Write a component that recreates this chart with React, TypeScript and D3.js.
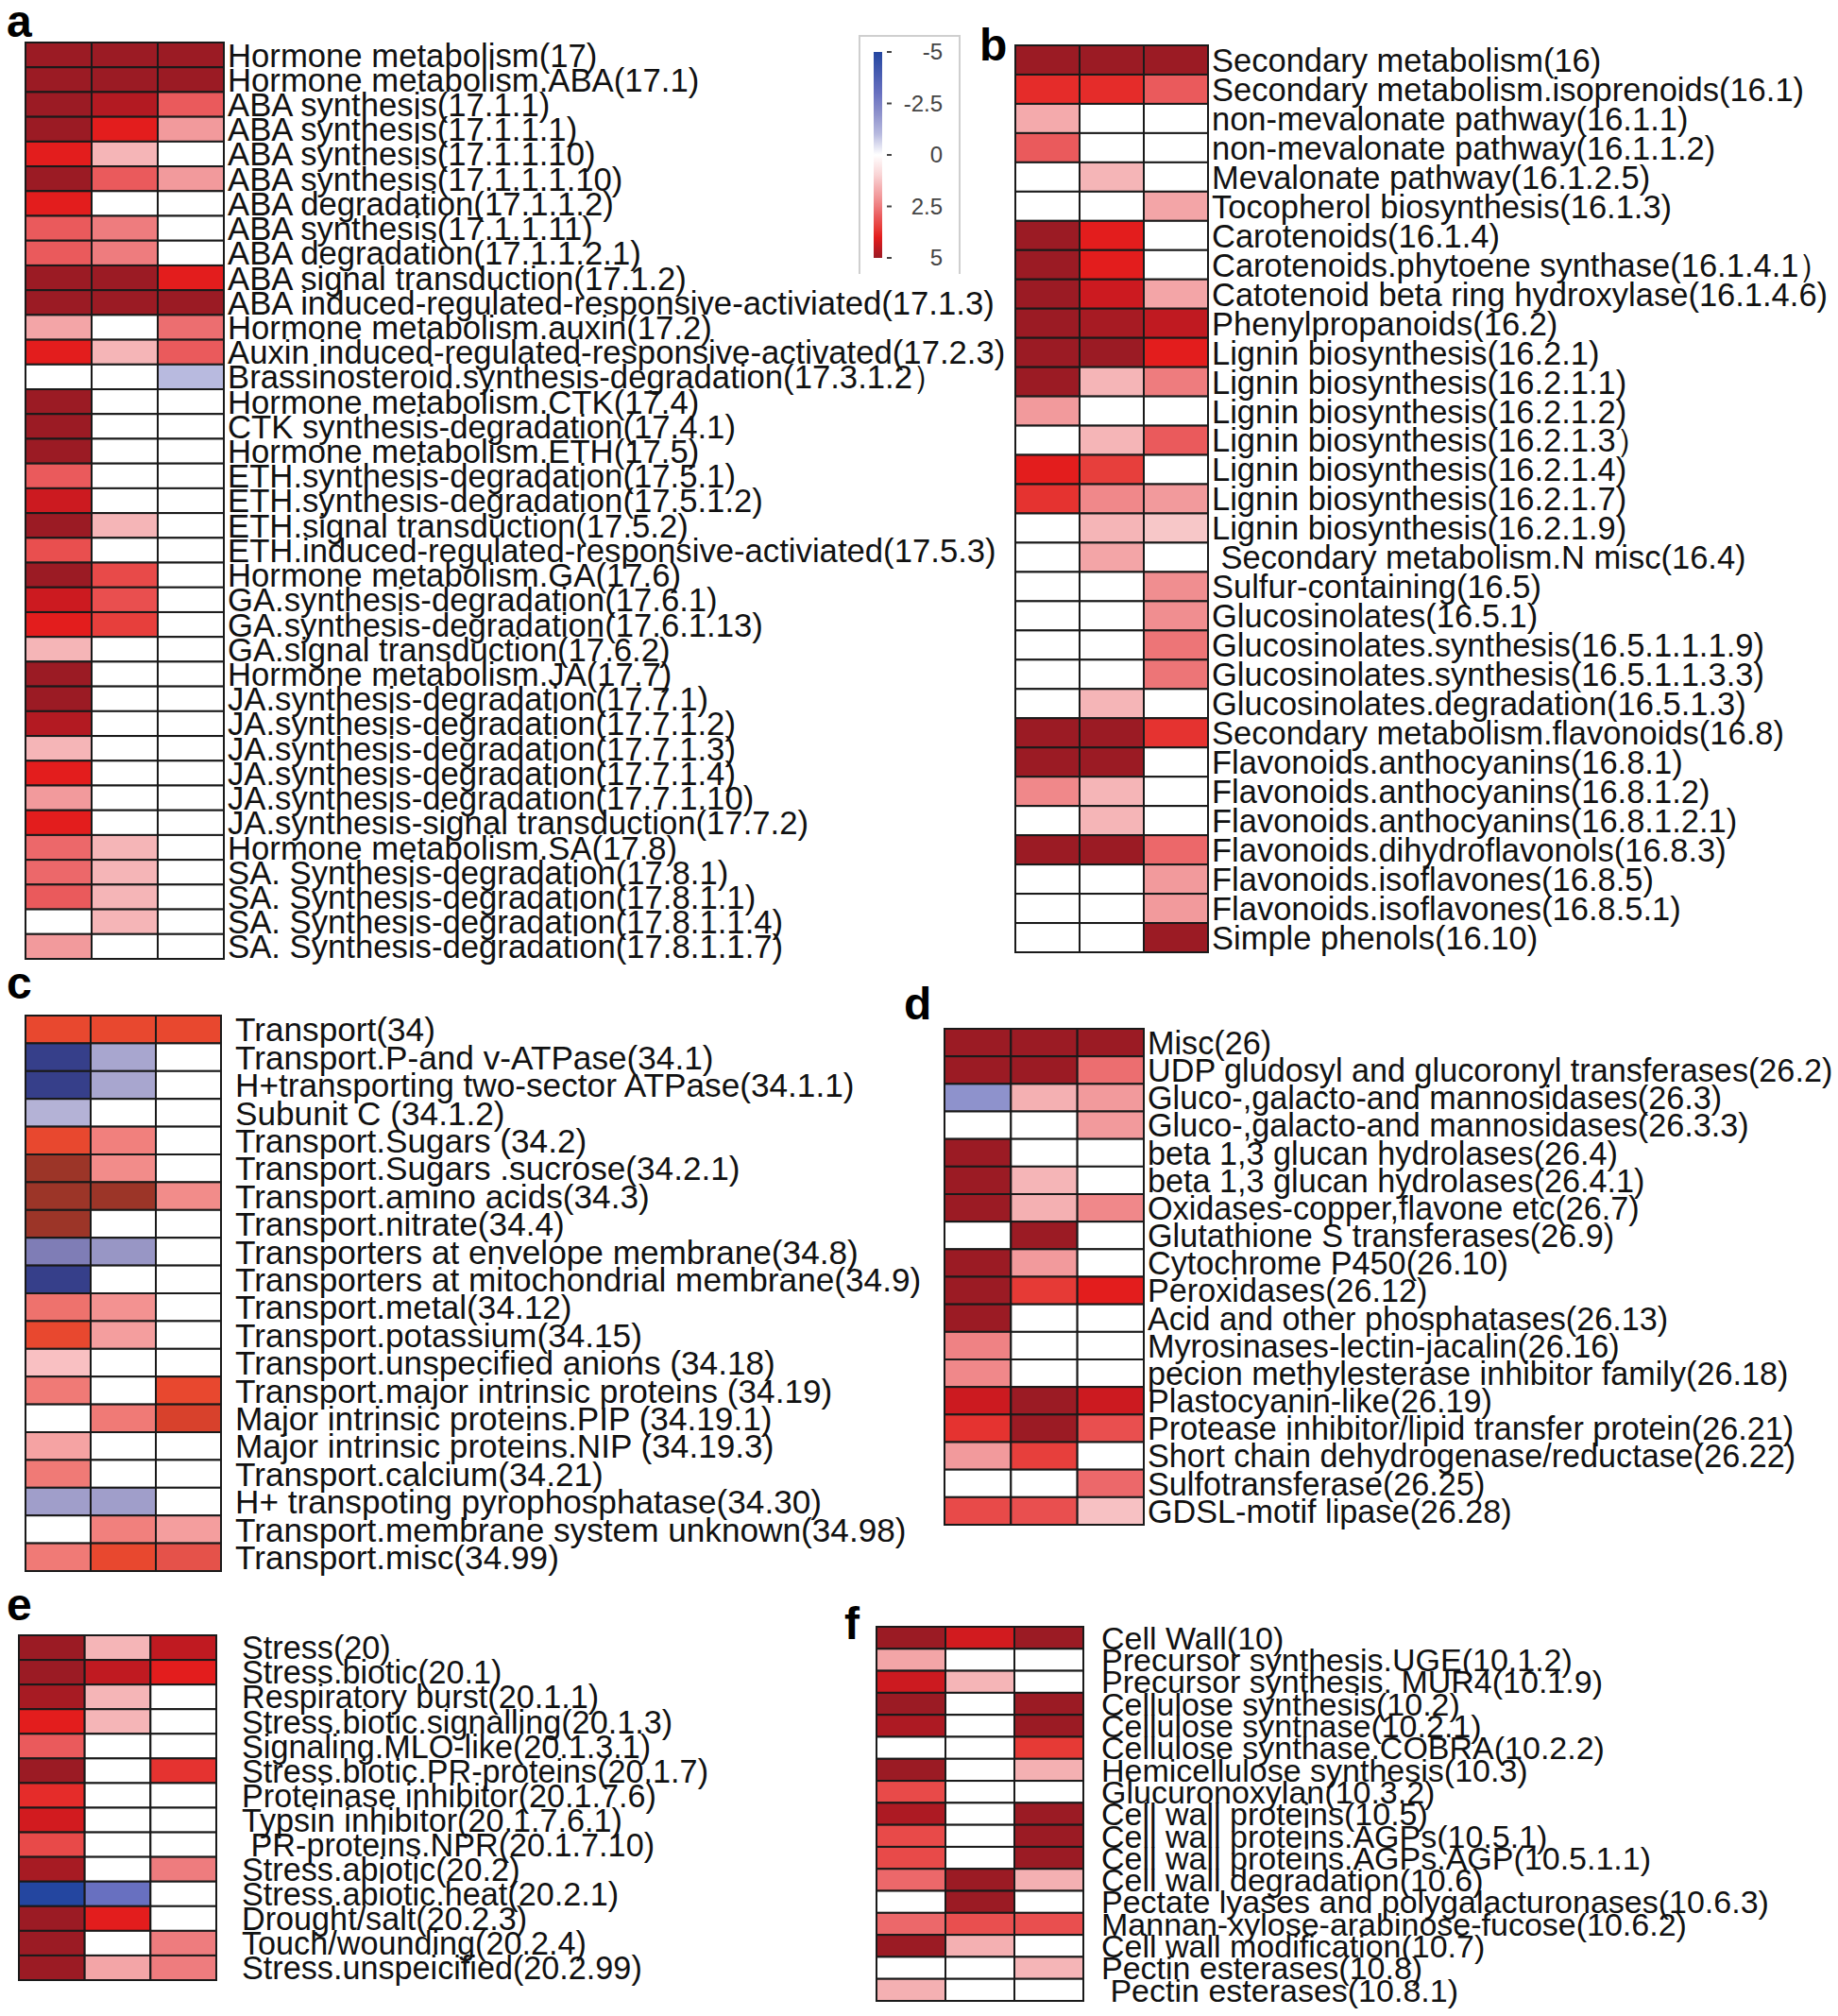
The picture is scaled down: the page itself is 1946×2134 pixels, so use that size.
import React from 'react';
import * as d3 from 'd3';

// ---------- DATA ----------
const conditions = ['C1', 'C2', 'C3'];

const aLabels = [
  'Hormone metabolism(17)', 'Hormone metabolism.ABA(17.1)', 'ABA synthesis(17.1.1)', 'ABA synthesis(17.1.1.1)',
  'ABA synthesis(17.1.1.10)', 'ABA synthesis(17.1.1.1.10)', 'ABA degradation(17.1.1.2)', 'ABA synthesis(17.1.1.11)',
  'ABA degradation(17.1.1.2.1)', 'ABA signal transduction(17.1.2)', 'ABA induced-regulated-responsive-activiated(17.1.3)',
  'Hormone metabolism.auxin(17.2)', 'Auxin induced-regulated-responsive-activated(17.2.3)',
  'Brassinosteroid.synthesis-degradation(17.3.1.2）', 'Hormone metabolism.CTK(17.4)', 'CTK synthesis-degradation(17.4.1)',
  'Hormone metabolism.ETH(17.5)', 'ETH.synthesis-degradation(17.5.1)', 'ETH.synthesis-degradation(17.5.1.2)',
  'ETH.signal transduction(17.5.2)', 'ETH.induced-regulated-responsive-activiated(17.5.3)', 'Hormone metabolism.GA(17.6)',
  'GA.synthesis-degradation(17.6.1)', 'GA.synthesis-degradation(17.6.1.13)', 'GA.signal transduction(17.6.2)',
  'Hormone metabolism.JA(17.7)', 'JA.synthesis-degradation(17.7.1)', 'JA.synthesis-degradation(17.7.1.2)',
  'JA.synthesis-degradation(17.7.1.3)', 'JA.synthesis-degradation(17.7.1.4)', 'JA.synthesis-degradation(17.7.1.10)',
  'JA.synthesis-signal transduction(17.7.2)', 'Hormone metabolism.SA(17.8)', 'SA. Synthesis-degradation(17.8.1)',
  'SA. Synthesis-degradation(17.8.1.1)', 'SA. Synthesis-degradation(17.8.1.1.4)', 'SA. Synthesis-degradation(17.8.1.1.7)',
];
const aValues = [
  [5, 5, 5], [5, 5, 5], [5, 4.6, 3], [5, 4, 2], [4, 1.5, 0], [5, 3, 2], [4, 0, 0], [3, 2.5, 0], [3, 2.5, 0],
  [5, 5, 4], [5, 5, 5], [1.8, 0, 2.7], [4, 1.5, 3], [0, 0, -1], [5, 0, 0], [5, 0, 0], [5, 0, 0], [3, 0, 0],
  [4.4, 0, 0], [5, 1.5, 0], [3.2, 0, 0], [5, 3.3, 0], [4.4, 3.2, 0], [4, 3.5, 0], [1.5, 0, 0], [5, 0, 0],
  [5, 0, 0], [4.6, 0, 0], [1.5, 0, 0], [4, 0, 0], [2, 0, 0], [4, 0, 0], [2.8, 1.5, 0], [2.8, 1.5, 0],
  [3, 1.5, 0], [0, 1.5, 0], [2, 0, 0],
];

const bLabels = [
  'Secondary metabolism(16)', 'Secondary metabolism.isoprenoids(16.1)', 'non-mevalonate pathway(16.1.1)',
  'non-mevalonate pathway(16.1.1.2)', 'Mevalonate pathway(16.1.2.5)', 'Tocopherol biosynthesis(16.1.3)',
  'Carotenoids(16.1.4)', 'Carotenoids.phytoene synthase(16.1.4.1）', 'Catotenoid beta ring hydroxylase(16.1.4.6)',
  'Phenylpropanoids(16.2)', 'Lignin biosynthesis(16.2.1)', 'Lignin biosynthesis(16.2.1.1)', 'Lignin biosynthesis(16.2.1.2)',
  'Lignin biosynthesis(16.2.1.3）', 'Lignin biosynthesis(16.2.1.4)', 'Lignin biosynthesis(16.2.1.7)',
  'Lignin biosynthesis(16.2.1.9)', ' Secondary metabolism.N misc(16.4)', 'Sulfur-containing(16.5)', 'Glucosinolates(16.5.1)',
  'Glucosinolates.synthesis(16.5.1.1.1.9)', 'Glucosinolates.synthesis(16.5.1.1.3.3)', 'Glucosinolates.degradation(16.5.1.3)',
  'Secondary metabolism.flavonoids(16.8)', 'Flavonoids.anthocyanins(16.8.1)', 'Flavonoids.anthocyanins(16.8.1.2)',
  'Flavonoids.anthocyanins(16.8.1.2.1)', 'Flavonoids.dihydroflavonols(16.8.3)', 'Flavonoids.isoflavones(16.8.5)',
  'Flavonoids.isoflavones(16.8.5.1)', 'Simple phenols(16.10)',
];
const bValues = [
  [5, 5, 5], [3.8, 3.8, 3], [1.7, 0, 0], [3, 0, 0], [0, 1.5, 0], [0, 0, 1.8], [5, 4, 0], [5, 4, 0], [5, 4.4, 1.8],
  [5, 4.8, 4.5], [5, 5, 4], [5, 1.5, 2.5], [2, 0, 0], [0, 1.5, 3], [4, 3.5, 0], [3.7, 2.3, 2], [0, 1.5, 1.2],
  [0, 1.8, 0], [0, 0, 2.2], [0, 0, 2.2], [0, 0, 2.6], [0, 0, 2.6], [0, 1.5, 0], [5, 5, 3.7], [5, 5, 0],
  [2.3, 1.5, 0], [0, 1.5, 0], [5, 5, 2.8], [0, 0, 2], [0, 0, 2], [0, 0, 5],
];

const cLabels = [
  'Transport(34)', 'Transport.P-and v-ATPase(34.1)', 'H+transporting two-sector ATPase(34.1.1)', 'Subunit C (34.1.2)',
  'Transport.Sugars (34.2)', 'Transport.Sugars .sucrose(34.2.1)', 'Transport.amino acids(34.3)', 'Transport.nitrate(34.4)',
  'Transporters at envelope membrane(34.8)', 'Transporters at mitochondrial membrane(34.9)', 'Transport.metal(34.12)',
  'Transport.potassium(34.15)', 'Transport.unspecified anions (34.18)', 'Transport.major intrinsic proteins (34.19)',
  'Major intrinsic proteins.PIP (34.19.1)', 'Major intrinsic proteins.NIP (34.19.3)', 'Transport.calcium(34.21)',
  'H+ transpoting pyrophosphatase(34.30)', 'Transport.membrane system unknown(34.98)', 'Transport.misc(34.99)',
];
const cValues = [
  [4, 4, 4], [-5, -2, 0], [-5, -2, 0], [-1.6, 0, 0], [4, 2.5, 0], [5, 2.3, 0], [5, 5, 2.3], [5, 0, 0],
  [-3, -2.4, 0], [-5, 0, 0], [2.8, 2.2, 0], [4, 2, 0], [1.3, 0, 0], [2.6, 0, 4], [0, 2.6, 4.4], [1.9, 0, 0],
  [2.6, 0, 0], [-2.2, -2.2, 0], [0, 2.5, 2], [2.6, 4, 3.6],
];

const dLabels = [
  'Misc(26)', 'UDP gludosyl and glucoronyl transferases(26.2)', 'Gluco-,galacto-and mannosidases(26.3)',
  'Gluco-,galacto-and mannosidases(26.3.3)', 'beta 1,3 glucan hydrolases(26.4)', 'beta 1,3 glucan hydrolases(26.4.1)',
  'Oxidases-copper,flavone etc(26.7)', 'Glutathione S transferases(26.9)', 'Cytochrome P450(26.10)', 'Peroxidases(26.12)',
  'Acid and other phosphatases(26.13)', 'Myrosinases-lectin-jacalin(26.16)', 'pecion methylesterase inhibitor family(26.18)',
  'Plastocyanin-like(26.19)', 'Protease inhibitor/lipid transfer protein(26.21)', 'Short chain dehydrogenase/reductase(26.22)',
  'Sulfotransferase(26.25)', 'GDSL-motif lipase(26.28)',
];
const dValues = [
  [5, 5, 5], [5, 5, 2.7], [-2, 1.6, 2], [0, 0, 2], [5, 0, 0], [5, 1.5, 0], [5, 1.6, 2.3], [0, 5, 0], [5, 2, 0],
  [5, 3.6, 4], [5, 0, 0], [2.4, 0, 0], [2.3, 0, 0], [4.4, 5, 4.4], [3.7, 5, 3.2], [2, 3.5, 0], [0, 0, 2.8],
  [3.3, 3.2, 1.3],
];

const eLabels = [
  'Stress(20)', 'Stress.biotic(20.1)', 'Respiratory burst(20.1.1)', 'Stress.biotic.signalling(20.1.3)',
  'Signaling.MLO-like(20.1.3.1)', 'Stress.biotic.PR-proteins(20.1.7)', 'Proteinase inhibitor(20.1.7.6)',
  'Typsin inhibitor(20.1.7.6.1)', ' PR-proteins.NPR(20.1.7.10)', 'Stress.abiotic(20.2)', 'Stress.abiotic.heat(20.2.1)',
  'Drought/salt(20.2.3)', 'Touch/wounding(20.2.4)', 'Stress.unspeicified(20.2.99)',
];
const eValues = [
  [5, 1.5, 4.5], [5, 4.5, 4], [4.8, 1.5, 0], [4, 1.5, 0], [3, 0, 0], [5, 0, 3.7], [3.8, 0, 0], [4.3, 0, 0],
  [3.3, 0, 0], [4.8, 0, 2.5], [-5, -3, 0], [5, 4, 0], [5, 0, 2.5], [5, 1.8, 2.5],
];

const fLabels = [
  'Cell Wall(10)', 'Precursor synthesis.UGE(10.1.2)', 'Precursor synthesis. MUR4(10.1.9)', 'Cellulose synthesis(10.2)',
  'Cellulose syntnase(10.2.1)', 'Cellulose synthase.COBRA(10.2.2)', 'Hemicellulose synthesis(10.3)', 'Glucuronoxylan(10.3.2)',
  'Cell wall proteins(10.5)', 'Cell wall proteins.AGPs(10.5.1)', 'Cell wall proteins.AGPs.AGP(10.5.1.1)',
  'Cell wall degradation(10.6)', 'Pectate lyases and polygalacturonases(10.6.3)', 'Mannan-xylose-arabinose-fucose(10.6.2)',
  'Cell wall modification(10.7)', 'Pectin esterases(10.8)', ' Pectin esterases(10.8.1)',
];
const fValues = [
  [5, 4.3, 5], [1.8, 0, 0], [4.4, 1.5, 0], [5, 0, 5], [4.7, 0, 5], [0, 0, 3.6], [5, 0, 1.6], [3.3, 0, 0],
  [4.7, 0, 5], [3.3, 0, 5], [3.3, 0, 5], [2.8, 5, 1.6], [0, 5, 0], [2.8, 3.2, 3.2], [5, 1.6, 0], [0, 0, 1.5],
  [1.6, 0, 0],
];

const legendTicks = [-5, -2.5, 0, 2.5, 5];

// ---------- COLOUR SCALES ----------
const mainColor = d3.scaleLinear<string>()
  .domain([-5, -3, -2, -1, 0, 1, 1.5, 2, 2.5, 3, 3.6, 4, 4.4, 4.6, 5])
  .range(['#2446a0', '#6870c0', '#8e92cc', '#b8badf', '#ffffff', '#f9d3d4', '#f5b5b7', '#f29a9c', '#ee7c7e',
    '#ea5a5c', '#e63a36', '#e31d1d', '#cc1a20', '#b31a22', '#9b1b24'])
  .interpolate(d3.interpolateRgb);

const transportColor = d3.scaleLinear<string>()
  .domain([-5, -3, -2, -1, 0, 1, 1.3, 2, 2.6, 3.6, 4, 4.4, 5])
  .range(['#363f8a', '#7f7db6', '#a8a6cf', '#c5c4e0', '#ffffff', '#fbd3d4', '#f9c0c2', '#f49e9e', '#f07a76',
    '#e5524a', '#e8482f', '#d8412c', '#9c3528'])
  .interpolate(d3.interpolateRgb);

const FONT = '"Liberation Sans", Arial, sans-serif';

interface PanelProps {
  letter: string; lx: number; ly: number;
  x0: number; x1: number; y0: number; y1: number;
  labelX: number; fontSize: number;
  labels: string[]; values: number[][];
  color: (v: number) => string;
}

function Panel(p: PanelProps) {
  const xs = d3.scaleBand<string>().domain(conditions).range([p.x0, p.x1]);
  const ys = d3.scaleBand<string>().domain(p.labels.map((_, i) => String(i))).range([p.y0, p.y1]);
  return (
    <g>
      <text x={p.lx} y={p.ly} fontFamily={FONT} fontWeight="bold" fontSize={48} fill="#000">{p.letter}</text>
      {p.values.map((row, i) =>
        row.map((v, j) => (
          <rect key={`${i}-${j}`} x={xs(conditions[j])} y={ys(String(i))} width={xs.bandwidth()} height={ys.bandwidth()}
            fill={p.color(v)} stroke="#1a1a1a" strokeWidth={2} />
        )))}
      {p.labels.map((l, i) => (
        <text key={l + i} x={p.labelX} y={(ys(String(i)) as number) + ys.bandwidth() / 2 + p.fontSize * 0.36}
          fontFamily={FONT} fontSize={p.fontSize} fill="#111" style={{ whiteSpace: 'pre' }}>{l}</text>
      ))}
    </g>
  );
}

function Legend() {
  const y = d3.scaleLinear().domain([-5, 5]).range([55, 273]);
  const stops = d3.range(-5, 5.01, 0.5);
  return (
    <g>
      <defs>
        <linearGradient id="lg" x1="0" y1="0" x2="0" y2="1">
          {stops.map((s) => (
            <stop key={s} offset={`${((s + 5) / 10) * 100}%`} stopColor={mainColor(s)} />
          ))}
        </linearGradient>
      </defs>
      <path d="M910,290 V38 H1016 V290" fill="none" stroke="#cfcfcf" strokeWidth={2} />
      <rect x={925} y={y(-5)} width={9} height={y(5) - y(-5)} fill="url(#lg)" />
      {legendTicks.map((t) => (
        <g key={t}>
          <line x1={939} x2={944} y1={y(t)} y2={y(t)} stroke="#444" strokeWidth={2} />
          <text x={998} y={y(t) + 8} textAnchor="end" fontFamily={FONT} fontSize={24} fill="#444">{t}</text>
        </g>
      ))}
    </g>
  );
}

export default function App() {
  return (
    <svg width={1946} height={2134} style={{ position: 'absolute', left: 0, top: 0, background: '#fff' }}>
      <rect x={0} y={0} width={1946} height={2134} fill="#fff" />
      <Panel letter="a" lx={7} ly={39} x0={27} x1={237} y0={45} y1={1015} labelX={241} fontSize={34.7}
        labels={aLabels} values={aValues} color={mainColor} />
      <Panel letter="b" lx={1037} ly={64} x0={1075} x1={1279} y0={48} y1={1008} labelX={1283} fontSize={34.5}
        labels={bLabels} values={bValues} color={mainColor} />
      <Panel letter="c" lx={7} ly={1057} x0={27} x1={234} y0={1075} y1={1663} labelX={249} fontSize={35.2}
        labels={cLabels} values={cValues} color={transportColor} />
      <Panel letter="d" lx={957} ly={1079} x0={1000} x1={1211} y0={1089} y1={1614} labelX={1215} fontSize={34.2}
        labels={dLabels} values={dValues} color={mainColor} />
      <Panel letter="e" lx={7} ly={1715} x0={20} x1={229} y0={1731} y1={2096} labelX={256} fontSize={34.2}
        labels={eLabels} values={eValues} color={mainColor} />
      <Panel letter="f" lx={894} ly={1735} x0={928} x1={1147} y0={1722} y1={2118} labelX={1166} fontSize={34}
        labels={fLabels} values={fValues} color={mainColor} />
      <Legend />
    </svg>
  );
}
